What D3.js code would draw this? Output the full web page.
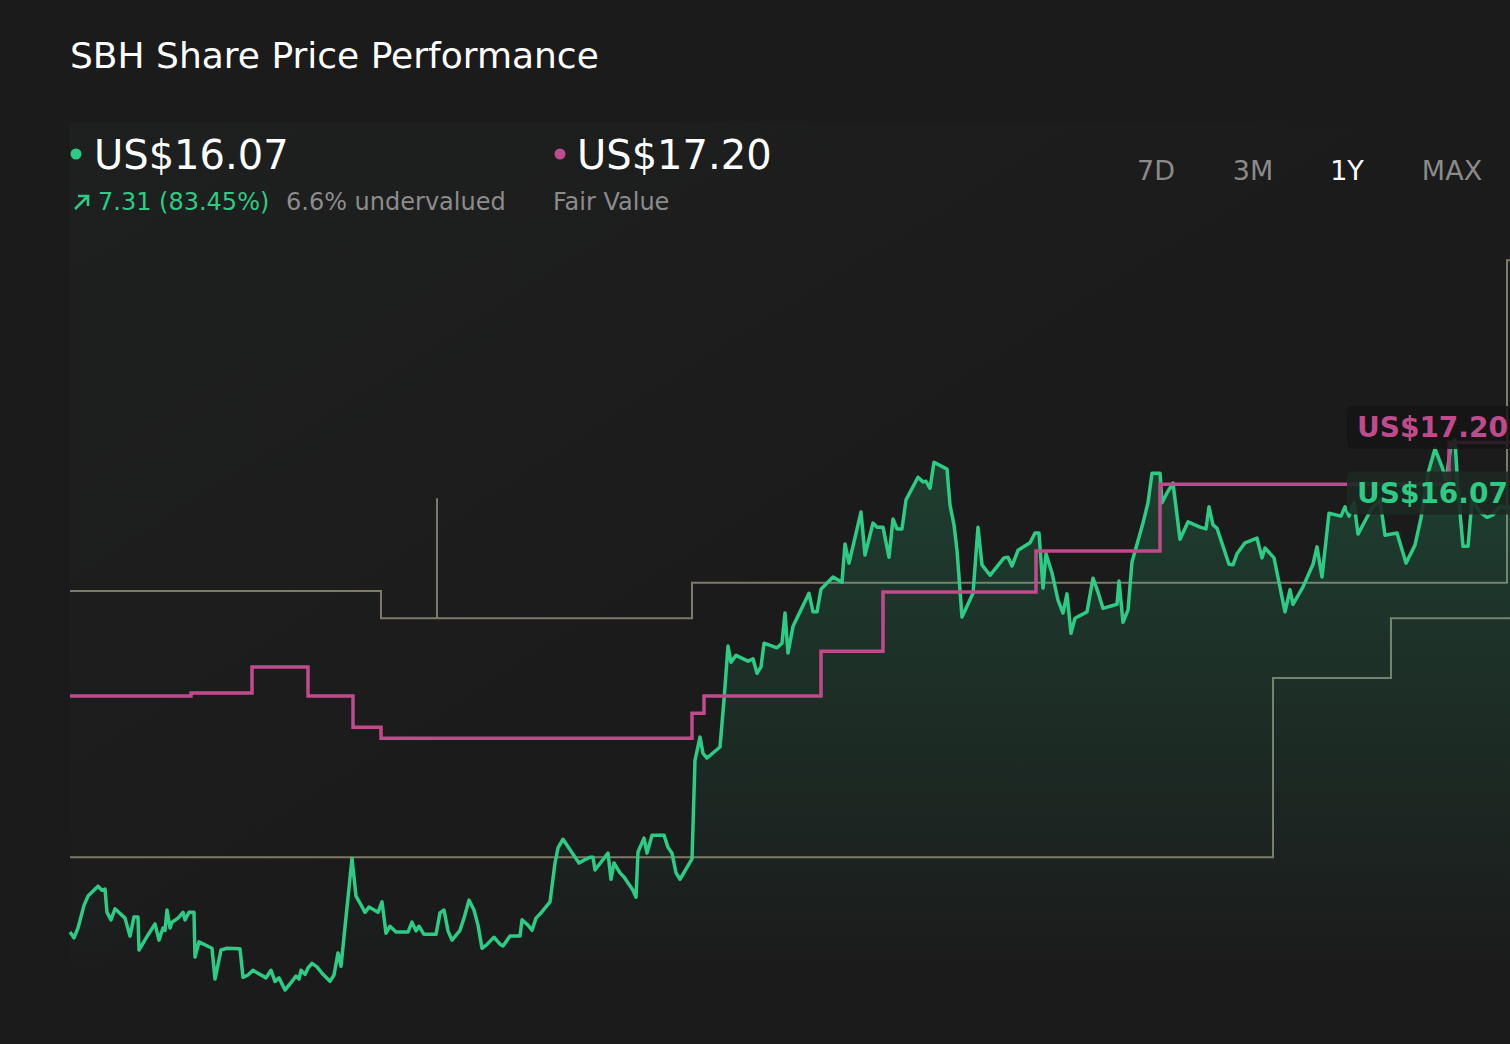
<!DOCTYPE html>
<html>
<head>
	<title>SBH Share Price Performance</title>
	<meta charset="utf-8"/>
	<script src="https://cdn.jsdelivr.net/npm/d3@7/dist/d3.min.js"></script>
	<style>
		html,body{margin:0;padding:0;background:#1b1b1b;}
		svg{display:block;font-family:"DejaVu Sans",sans-serif;}
	</style>
	<script>
		// days since start of the 1Y window
		var priceDays = [0,1,2,3.5,4.5,7,8,8.75,9.25,10.25,11.25,13.75,15,16,17,17.25,19.5,21.25,22.25,23.25,23.75,24.25,25,25.5,27,28.25,28.75,29.75,31,31.25,32.25,35.5,36.25,37.75,39.25,42.5,43.25,44.5,45.75,49,50.25,51.25,52.25,53.75,55.5,56.5,57.25,57.75,58.75,59.5,60.5,61.75,63,65,66,67,67.75,70.5,71.5,72.5,73.75,74.75,77,78,79,80,81.5,84.5,85.5,86.5,87.25,88.5,91.5,92.5,93.5,94.5,95.5,97.5,98.5,99.75,101,102,103,104,106,107.5,108.25,110,112.5,113,114.5,115.5,116.5,117.5,120,121.25,122,123.25,127.25,128.5,130,130.75,131.25,134.5,135.25,136,137.5,138.5,140.75,141.5,142,143.5,144.25,145.5,148.5,149.5,150.5,151.5,152.5,155.5,156.25,157.5,158.25,159.25,162.5,163.5,164.5,165.25,166.5,169.5,170.75,171.75,172.75,173.5,176.75,178,178.75,179.5,180.75,184.75,185.75,186.75,187.75,190.75,193,193.75,194.75,197.75,198.75,200.75,201.75,203.25,204.75,205.75,206.75,208,209,212,213.25,214,215,216,219.25,220,221,221.75,223,225.75,227,228,230,233.5,234.5,235.5,237,240,241.25,242.25,243.25,244,245.5,247,248.25,249.25,250.25,251.25,254.25,255.75,257,258.25,261.75,262.25,263.25,264.5,265.5,268.25,269.5,270.5,272.5,273,274.25,275.75,277.5,279.5,282.5,284,284.75,285.75,286.75,289.75,290.75,291.75,293.75,296.75,298,298.75,301,303.75,305,305.75,308.25,310.75,311.75,313,314.75,317.75,318.75,319.75,321,322,324.25,325.5,327.5,328.75,331.75,334,336.25,337.75,339.5,341.25,343,344,345.25,346.25,347,348.25,349.5,350.5,352.5,354.25,355.75,357.5,360];
		var priceValues = [8.76,8.66,8.83,9.22,9.38,9.55,9.48,9.50,9.10,8.97,9.16,9.00,8.69,9.02,9.02,8.45,8.71,8.90,8.62,8.83,8.79,9.14,8.83,8.93,9.00,9.10,8.97,9.10,9.10,8.33,8.59,8.48,7.95,8.45,8.48,8.47,7.98,8.02,8.10,7.97,8.10,7.91,7.97,7.76,7.91,8.00,7.95,8.10,8.03,8.14,8.22,8.16,8.05,7.91,8.02,8.40,8.17,10.03,9.38,9.26,9.10,9.19,9.10,9.28,8.74,8.86,8.76,8.76,8.93,8.78,8.86,8.72,8.72,9.09,9.14,8.78,8.62,8.79,9.00,9.31,9.14,8.88,8.48,8.53,8.67,8.55,8.52,8.69,8.69,8.97,8.88,8.79,9.00,9.07,9.28,9.95,10.21,10.36,9.95,10.00,10.05,10.05,9.83,10.12,9.67,9.95,9.78,9.71,9.48,9.36,10.14,10.38,10.12,10.43,10.43,10.22,10.12,9.78,9.67,10.02,11.72,12.12,11.84,11.76,11.95,12.76,13.69,13.41,13.53,13.43,13.47,13.22,13.33,13.74,13.66,13.74,14.26,13.57,14.03,14.60,14.28,14.28,14.67,14.88,14.79,15.45,15.12,16.00,15.26,15.81,15.74,15.74,15.22,15.88,15.71,15.71,16.21,16.60,16.52,16.53,16.41,16.86,16.74,16.12,15.78,15.34,14.19,14.60,15.74,15.09,14.91,15.21,15.22,15.07,15.34,15.47,15.64,15.64,14.69,15.28,14.95,14.48,14.26,14.59,13.91,14.17,14.28,14.86,14.62,14.34,14.41,14.81,14.10,14.31,15.14,15.81,16.16,16.67,16.67,16.16,16.33,16.50,15.53,15.83,15.74,15.71,16.09,15.78,15.72,15.10,15.09,15.28,15.47,15.55,15.21,15.38,15.21,14.28,14.66,14.41,14.71,15.10,15.40,14.88,15.98,15.93,16.09,15.93,16.16,15.62,15.91,16.07,16.21,15.60,15.64,15.12,15.43,15.90,16.67,17.09,16.78,16.55,17.16,17.24,16.38,15.41,15.41,16.21,16.00,15.91,15.95,16.10,16.07];

		var fairValueDays = [0,30.25,45.5,59.5,70.75,77.75,155.5,158.5,187.75,203.25,241.5,272.5,344.75,360];
		var fairValues = [12.83,12.88,13.33,12.83,12.29,12.10,12.53,12.83,13.60,14.62,15.33,16.48,17.20,17.20];

		var highTargetDays = [0,77.75,91.75,91.75,155.5,359.25,360];
		var highTargets = [14.64,14.17,16.24,14.17,14.78,20.34,20.34];

		var lowTargetDays = [0,300.75,330.25,360];
		var lowTargets = [10.05,13.14,14.17,14.17];

		var periods = ["7D","3M","1Y","MAX"];
		var activePeriod = "1Y";

		var lastPrice = 16.07, fairValue = 17.20;
		var changeText = "7.31 (83.45%)";
		var valuationText = "6.6% undervalued";

		var W = 1510, H = 1044;
		var GREEN = "#2dcb84", PINK = "#c04b8c", GREY = "#7d7a6c";

		function zip(xs, ys){
			return xs.map(function(d,i){return {d:d, v:ys[i]};});
		}

		function init(){
			var svg = d3.select('body').append('svg')
				.attr('width', W)
				.attr('height', H);

			var defs = svg.append('defs');
			var bgGrad = defs.append('linearGradient').attr('id','bgGrad')
				.attr('x1','0').attr('y1','0').attr('x2','1').attr('y2','1');
			bgGrad.append('stop').attr('offset','0').attr('stop-color','#1e201f');
			bgGrad.append('stop').attr('offset','0.5').attr('stop-color','#1b1b1b');

			var areaGrad = defs.append('linearGradient').attr('id','areaGrad')
				.attr('gradientUnits','userSpaceOnUse')
				.attr('x1',0).attr('y1',460).attr('x2',0).attr('y2',970);
			areaGrad.append('stop').attr('offset','0').attr('stop-color',GREEN).attr('stop-opacity',0.2);
			areaGrad.append('stop').attr('offset','1').attr('stop-color',GREEN).attr('stop-opacity',0.0);

			svg.append('rect').attr('width',W).attr('height',H).attr('fill','#1b1b1b');
			svg.append('rect').attr('x',70).attr('y',123).attr('width',W-70).attr('height',H-123)
				.attr('fill','url(#bgGrad)');

			var x = d3.scaleLinear().domain([0,360]).range([70,1510]);
			var y = d3.scaleLinear().domain([6.83,20.69]).range([1044,240]);

			var price = zip(priceDays, priceValues);
			var fair = zip(fairValueDays, fairValues);
			var high = zip(highTargetDays, highTargets);
			var low = zip(lowTargetDays, lowTargets);

			var step = d3.line().x(function(d){return x(d.d);}).y(function(d){return y(d.v);})
				.curve(d3.curveStepAfter);
			var line = d3.line().x(function(d){return x(d.d);}).y(function(d){return y(d.v);});
			var area = d3.area().x(function(d){return x(d.d);}).y0(H).y1(function(d){return y(d.v);});

			//analyst target bands
			[high, low].forEach(function(s){
				svg.append('path').datum(s).attr('d',step)
					.attr('fill','none').attr('stroke',GREY).attr('stroke-width',2);
			});

			svg.append('path').datum(price).attr('d',area).attr('fill','url(#areaGrad)');
			svg.append('path').datum(price).attr('d',line)
				.attr('fill','none').attr('stroke',GREEN).attr('stroke-width',3.5)
				.attr('stroke-linejoin','round');
			svg.append('path').datum(fair).attr('d',step)
				.attr('fill','none').attr('stroke',PINK).attr('stroke-width',3.5);

			//end labels
			var tags = [
				{v:fairValue, color:PINK, fill:'#141414', op:0.85},
				{v:lastPrice, color:GREEN, fill:'#1d2922', op:0.9}
			];
			tags.forEach(function(t){
				var cy = y(t.v) - 15;
				svg.append('rect').attr('x',1347).attr('y',cy-21.5).attr('width',180).attr('height',43)
					.attr('rx',6).attr('fill',t.fill).attr('fill-opacity',t.op);
				svg.append('text').attr('x',1357).attr('y',cy+10)
					.attr('fill',t.color).attr('font-size',28).attr('font-weight','bold')
					.text('US$'+t.v.toFixed(2));
			});

			//header
			svg.append('text').attr('x',70).attr('y',68).attr('fill','#ffffff')
				.attr('font-size',36).text('SBH Share Price Performance');

			svg.append('circle').attr('cx',76).attr('cy',154).attr('r',5.5).attr('fill',GREEN);
			svg.append('text').attr('x',94).attr('y',169).attr('fill','#ffffff')
				.attr('font-size',40).text('US$'+lastPrice.toFixed(2));
			svg.append('circle').attr('cx',560).attr('cy',154).attr('r',5.5).attr('fill',PINK);
			svg.append('text').attr('x',577).attr('y',169).attr('fill','#ffffff')
				.attr('font-size',40).text('US$'+fairValue.toFixed(2));

			svg.append('path').attr('d','M75,209 L88,196 M78,196 L88,196 L88,206')
				.attr('fill','none').attr('stroke',GREEN).attr('stroke-width',2.6);
			svg.append('text').attr('x',98).attr('y',210).attr('fill',GREEN)
				.attr('font-size',24).text(changeText);
			svg.append('text').attr('x',286).attr('y',210).attr('fill','#8c8c8c')
				.attr('font-size',24).text(valuationText);
			svg.append('text').attr('x',553).attr('y',210).attr('fill','#8c8c8c')
				.attr('font-size',24).text('Fair Value');

			var periodX = {"7D":1156, "3M":1253, "1Y":1347, "MAX":1452};
			svg.selectAll('text.period').data(periods).enter().append('text')
				.attr('class','period')
				.attr('x',function(d){return periodX[d];})
				.attr('y',180).attr('text-anchor','middle').attr('font-size',27)
				.attr('fill',function(d){return d==activePeriod?'#ffffff':'#8a8a8a';})
				.text(function(d){return d;});
		}
	</script>
</head>
<body onLoad="init()">
</body>
</html>
